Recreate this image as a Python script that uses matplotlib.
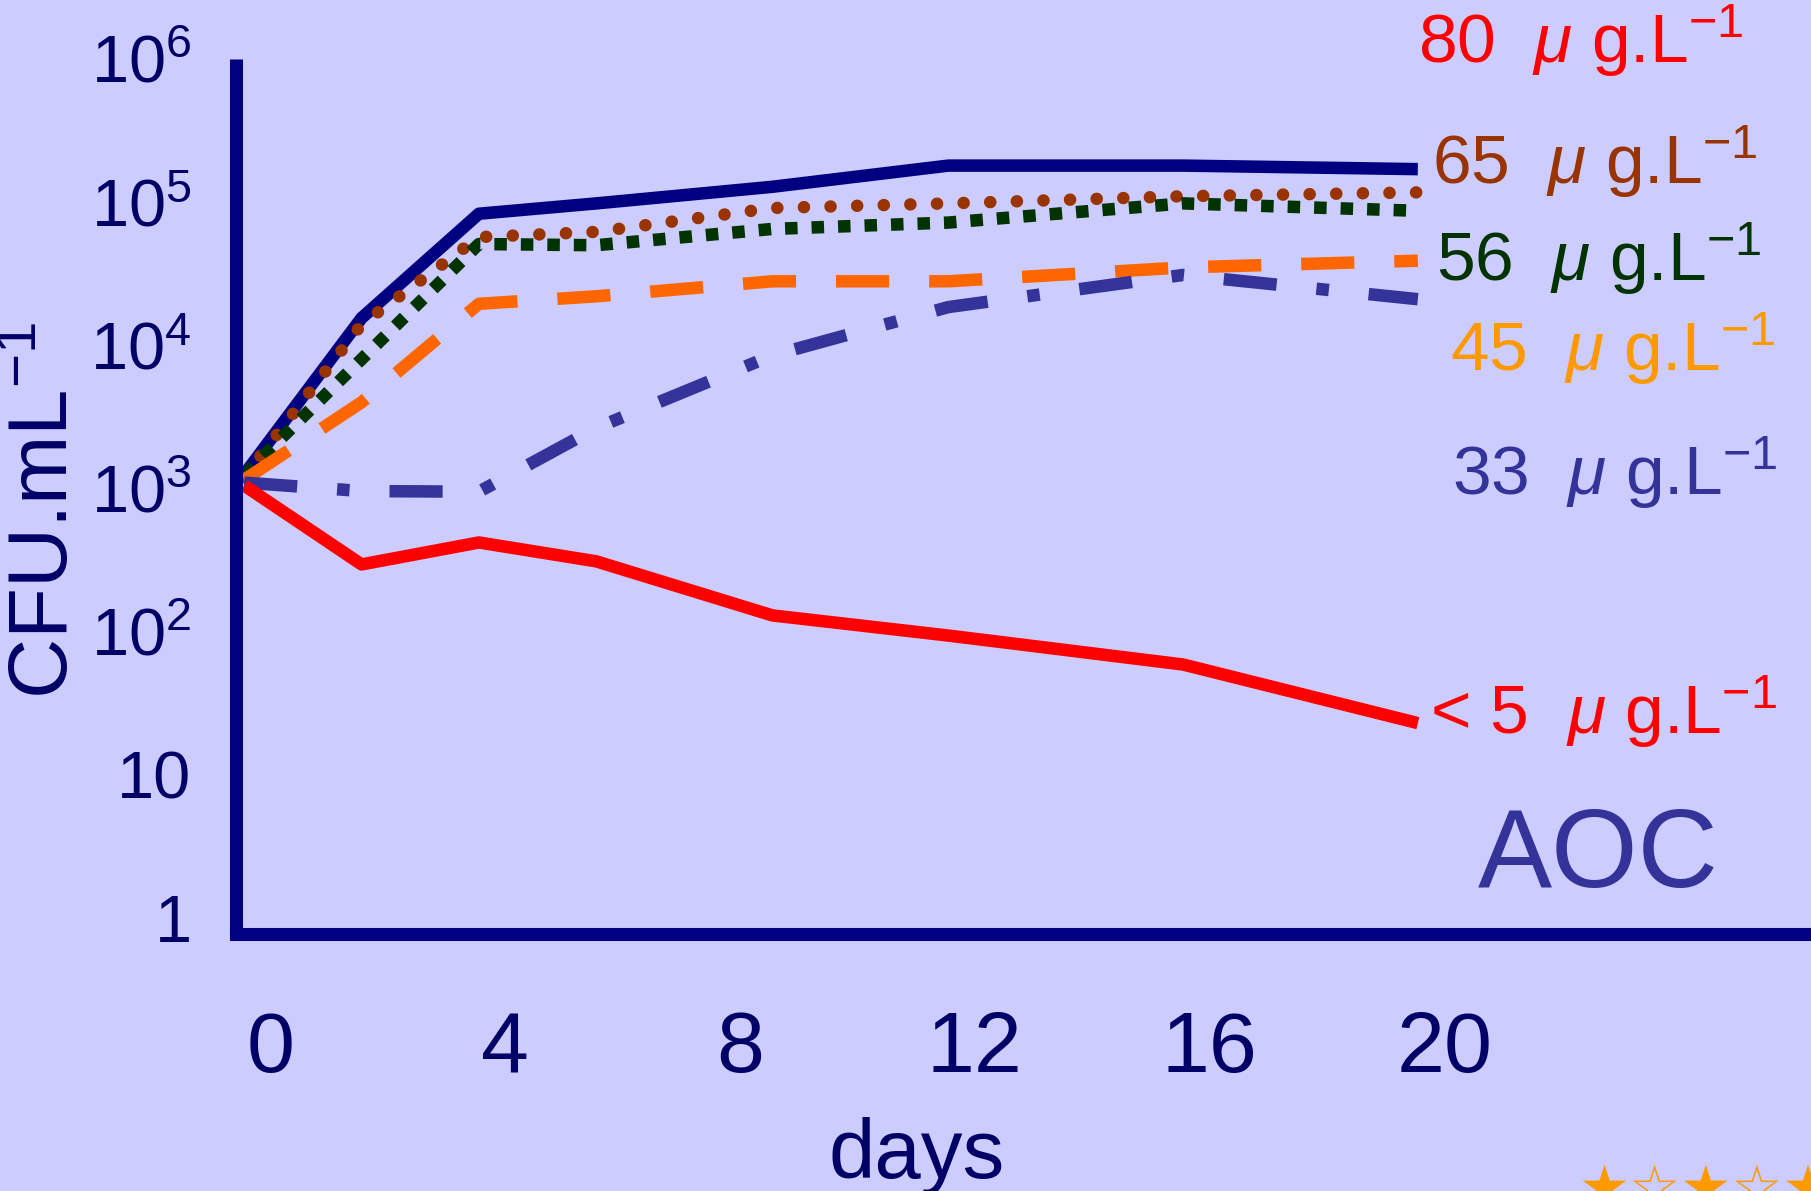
import numpy as np
import matplotlib.pyplot as plt
from matplotlib.transforms import ScaledTranslation

plt.rcParams['font.family'] = ['Liberation Sans', 'DejaVu Sans']
plt.rcParams['mathtext.fontset'] = 'custom'
plt.rcParams['mathtext.rm'] = 'Liberation Sans'
plt.rcParams['mathtext.it'] = 'Liberation Sans:italic'
plt.rcParams['mathtext.default'] = 'regular'

# Data (CFU per mL over days, per AOC level)
days = [0, 2, 4, 6, 9, 12, 16, 20]
aoc_80 = [1250, 15500, 83000, 98000, 128000, 180000, 180000, 170000]
aoc_65 = [1200, 14000, 57000, 62000, 91000, 98000, 110000, 117000]
aoc_56 = [1250, 8000, 51000, 50000, 65000, 72000, 98000, 87000]
aoc_45 = [1150, 4000, 19500, 22000, 28000, 28000, 35000, 39000]
aoc_33 = [1100, 960, 950, 2650, 8500, 18500, 31000, 21000]
aoc_5 = [1050, 295, 420, 310, 130, 94, 59, 23]

x_ticks = [0, 4, 8, 12, 16, 20]
y_ticks = [1, 10, 1e2, 1e3, 1e4, 1e5, 1e6]
y_tick_labels = ['1', '10', '$10^{2}$', '$10^{3}$', '$10^{4}$', '$10^{5}$', '$10^{6}$']

level_labels = ['80', '65', '56', '45', '33', '< 5']
level_colors = ['#FF0000', '#993300', '#003300', '#FF9900', '#333399', '#FF0000']

NAVY = '#000080'
TEXT = '#000066'
BG = '#CCCCFF'

fig = plt.figure(figsize=(18.11, 11.91), dpi=100, facecolor=BG)
ax = fig.add_axes([0.1303, 0.2158, 0.8697, 0.7347])
ax.set_facecolor(BG)
ax.set_yscale('log')

lw = 9
ax.plot(days, aoc_80, color=NAVY, lw=lw, solid_capstyle='butt')
ax.plot(days, aoc_65, color='#993300', lw=lw, linestyle=(0, (0.01, 2.12)),
        dash_capstyle='round')
ax.plot(days, aoc_56, color='#003300', lw=lw, linestyle=(0, (1, 1.12)),
        dash_capstyle='butt')
ax.plot(days, aoc_45, color='#FF6600', lw=lw, linestyle=(0, (4.25, 3.2)),
        dash_capstyle='butt')
ax.plot(days, aoc_33, color='#333399', lw=lw, linestyle=(0, (4.25, 3.2, 1.0, 3.2)),
        dash_capstyle='butt')
ax.plot(days, aoc_5, color='#FF0000', lw=lw, solid_capstyle='butt')

ax.set_xlim(-0.14, 26.7)
ax.set_ylim(10 ** -0.111, 10 ** 5.966)

for side in ['top', 'right']:
    ax.spines[side].set_visible(False)
for side in ['left', 'bottom']:
    ax.spines[side].set_color(NAVY)
    ax.spines[side].set_linewidth(9.4)
ax.spines['left'].set_capstyle('butt')
ax.spines['bottom'].set_capstyle('projecting')

ax.set_xticks(x_ticks)
ax.set_xticklabels([str(d) for d in x_ticks])
ax.set_yticks(y_ticks)
ax.set_yticklabels(y_tick_labels)
ax.minorticks_off()
ax.tick_params(axis='x', length=0, pad=55, labelsize=62, labelcolor=TEXT)
ax.tick_params(axis='y', length=0, pad=32, labelsize=48, labelcolor=TEXT)
shift = ScaledTranslation(0.265, 0, fig.dpi_scale_trans)
for lab in ax.get_xticklabels():
    lab.set_transform(lab.get_transform() + shift)

fig.text(0.0254, 0.571, 'CFU.mL$^{-1}$', rotation=90, ha='center', va='center',
         fontsize=60, color=TEXT)
fig.text(0.506, 0.011, 'days', ha='center', va='baseline', fontsize=60, color=TEXT)

# right-hand labels
label_x = [1418, 1432, 1436, 1450, 1452, 1430]
label_y = [41, 162, 259, 349, 473, 712]
for lev, col, lx, ly in zip(level_labels, level_colors, label_x, label_y):
    fig.text(lx / 1811, 1 - ly / 1191, lev + '  $\\mathit{\\mu}$ g.L$^{-1}$',
             ha='left', va='center', fontsize=50, color=col)

fig.text(1478 / 1811, 1 - 858 / 1191, 'AOC', ha='left', va='center',
         fontsize=80, color='#333399')

fig.text(1578 / 1811, -0.012, '\u2605\u2606\u2605\u2606\u2605', ha='left',
         va='baseline', fontsize=41, color='#FF9900', family='DejaVu Sans')

fig.savefig('out.png', dpi=100, facecolor=BG)
